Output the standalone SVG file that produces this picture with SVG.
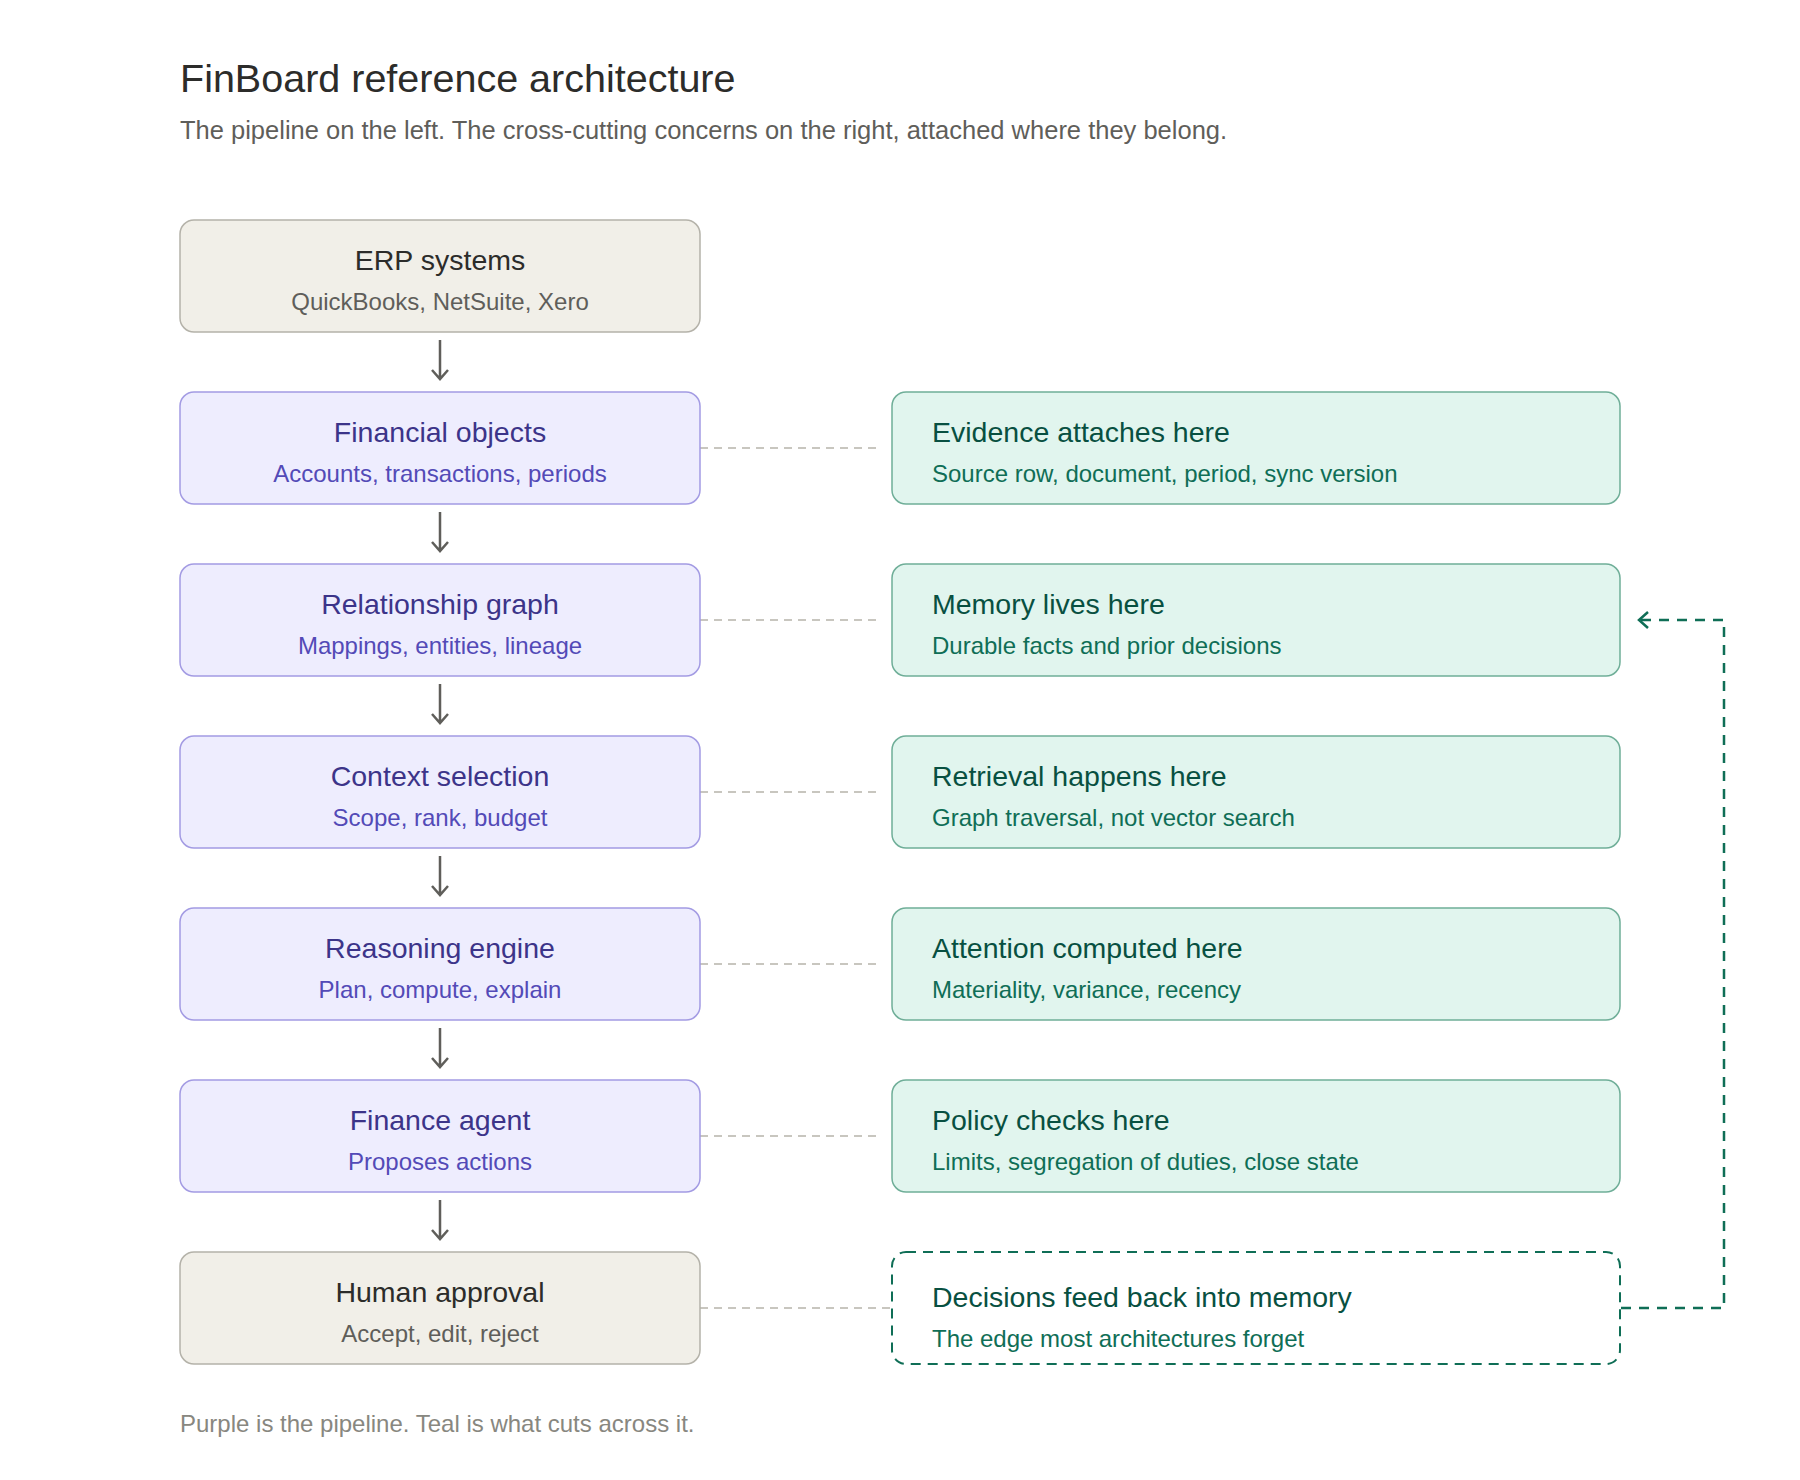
<svg xmlns="http://www.w3.org/2000/svg" width="1800" height="1480" viewBox="0 0 1800 1480">
<style>
text{font-family:"Liberation Sans",Arial,sans-serif}
.h1{font-size:39.5px;fill:#2c2c2a}
.h2{font-size:25.5px;fill:#5f5e5a}
.foot{font-size:24px;fill:#888780}
.t{font-size:28.5px}
.s{font-size:24px}
.mid{text-anchor:middle}
.neu rect{fill:#f1efe8;stroke:#b4b2a9;stroke-width:1.5}
.neu .t{fill:#2c2c2a}.neu .s{fill:#5f5e5a}
.pur rect{fill:#eeedfe;stroke:#a39be3;stroke-width:1.5}
.pur .t{fill:#3c3489}.pur .s{fill:#534ab7}
.tea rect{fill:#e1f5ee;stroke:#6fae98;stroke-width:1.5}
.tea .t{fill:#085041}.tea .s{fill:#0f6e56}
.tdash rect{fill:none;stroke:#0f6e56;stroke-width:2;stroke-dasharray:10 7}
.tdash .t{fill:#085041}.tdash .s{fill:#0f6e56}
.flow{fill:none;stroke:#5f5e5a;stroke-width:2.5}
.attach{fill:none;stroke:#c8c6bf;stroke-width:2;stroke-dasharray:8 6}
.fb{fill:none;stroke:#0f6e56;stroke-width:2.5;stroke-dasharray:10 8}
.fbh{fill:none;stroke:#0f6e56;stroke-width:2.5}
</style>
<text class="h1" x="180" y="92">FinBoard reference architecture</text>
<text class="h2" x="180" y="139">The pipeline on the left. The cross-cutting concerns on the right, attached where they belong.</text>

<g id="connectors">
<path class="flow" d="M440,340 V379 M432,370 L440,379 L448,370"/>
<path class="flow" d="M440,512 V551 M432,542 L440,551 L448,542"/>
<path class="flow" d="M440,684 V723 M432,714 L440,723 L448,714"/>
<path class="flow" d="M440,856 V895 M432,886 L440,895 L448,886"/>
<path class="flow" d="M440,1028 V1067 M432,1058 L440,1067 L448,1058"/>
<path class="flow" d="M440,1200 V1239 M432,1230 L440,1239 L448,1230"/>
<line class="attach" x1="700" y1="448" x2="880" y2="448"/>
<line class="attach" x1="700" y1="620" x2="880" y2="620"/>
<line class="attach" x1="700" y1="792" x2="880" y2="792"/>
<line class="attach" x1="700" y1="964" x2="880" y2="964"/>
<line class="attach" x1="700" y1="1136" x2="880" y2="1136"/>
<line class="attach" x1="700" y1="1308" x2="890" y2="1308"/>
<path class="fb" d="M1621,1308 H1724 V620 H1640"/>
<path class="fbh" d="M1648,612 L1639,620 L1648,628"/>
</g>

<g id="erp" class="neu"><rect x="180" y="220" width="520" height="112" rx="14"/><text class="t mid" x="440" y="270">ERP systems</text><text class="s mid" x="440" y="310">QuickBooks, NetSuite, Xero</text></g>
<g id="financial-objects" class="pur"><rect x="180" y="392" width="520" height="112" rx="14"/><text class="t mid" x="440" y="442">Financial objects</text><text class="s mid" x="440" y="482">Accounts, transactions, periods</text></g>
<g id="relationship-graph" class="pur"><rect x="180" y="564" width="520" height="112" rx="14"/><text class="t mid" x="440" y="614">Relationship graph</text><text class="s mid" x="440" y="654">Mappings, entities, lineage</text></g>
<g id="context-selection" class="pur"><rect x="180" y="736" width="520" height="112" rx="14"/><text class="t mid" x="440" y="786">Context selection</text><text class="s mid" x="440" y="826">Scope, rank, budget</text></g>
<g id="reasoning-engine" class="pur"><rect x="180" y="908" width="520" height="112" rx="14"/><text class="t mid" x="440" y="958">Reasoning engine</text><text class="s mid" x="440" y="998">Plan, compute, explain</text></g>
<g id="finance-agent" class="pur"><rect x="180" y="1080" width="520" height="112" rx="14"/><text class="t mid" x="440" y="1130">Finance agent</text><text class="s mid" x="440" y="1170">Proposes actions</text></g>
<g id="human-approval" class="neu"><rect x="180" y="1252" width="520" height="112" rx="14"/><text class="t mid" x="440" y="1302">Human approval</text><text class="s mid" x="440" y="1342">Accept, edit, reject</text></g>

<g id="evidence" class="tea"><rect x="892" y="392" width="728" height="112" rx="14"/><text class="t" x="932" y="442">Evidence attaches here</text><text class="s" x="932" y="482">Source row, document, period, sync version</text></g>
<g id="memory" class="tea"><rect x="892" y="564" width="728" height="112" rx="14"/><text class="t" x="932" y="614">Memory lives here</text><text class="s" x="932" y="654">Durable facts and prior decisions</text></g>
<g id="retrieval" class="tea"><rect x="892" y="736" width="728" height="112" rx="14"/><text class="t" x="932" y="786">Retrieval happens here</text><text class="s" x="932" y="826">Graph traversal, not vector search</text></g>
<g id="attention" class="tea"><rect x="892" y="908" width="728" height="112" rx="14"/><text class="t" x="932" y="958">Attention computed here</text><text class="s" x="932" y="998">Materiality, variance, recency</text></g>
<g id="policy" class="tea"><rect x="892" y="1080" width="728" height="112" rx="14"/><text class="t" x="932" y="1130">Policy checks here</text><text class="s" x="932" y="1170">Limits, segregation of duties, close state</text></g>
<g id="feedback" class="tdash"><rect x="892" y="1252" width="728" height="112" rx="14"/><text class="t" x="932" y="1307">Decisions feed back into memory</text><text class="s" x="932" y="1347">The edge most architectures forget</text></g>

<text class="foot" x="180" y="1432">Purple is the pipeline. Teal is what cuts across it.</text>
</svg>
